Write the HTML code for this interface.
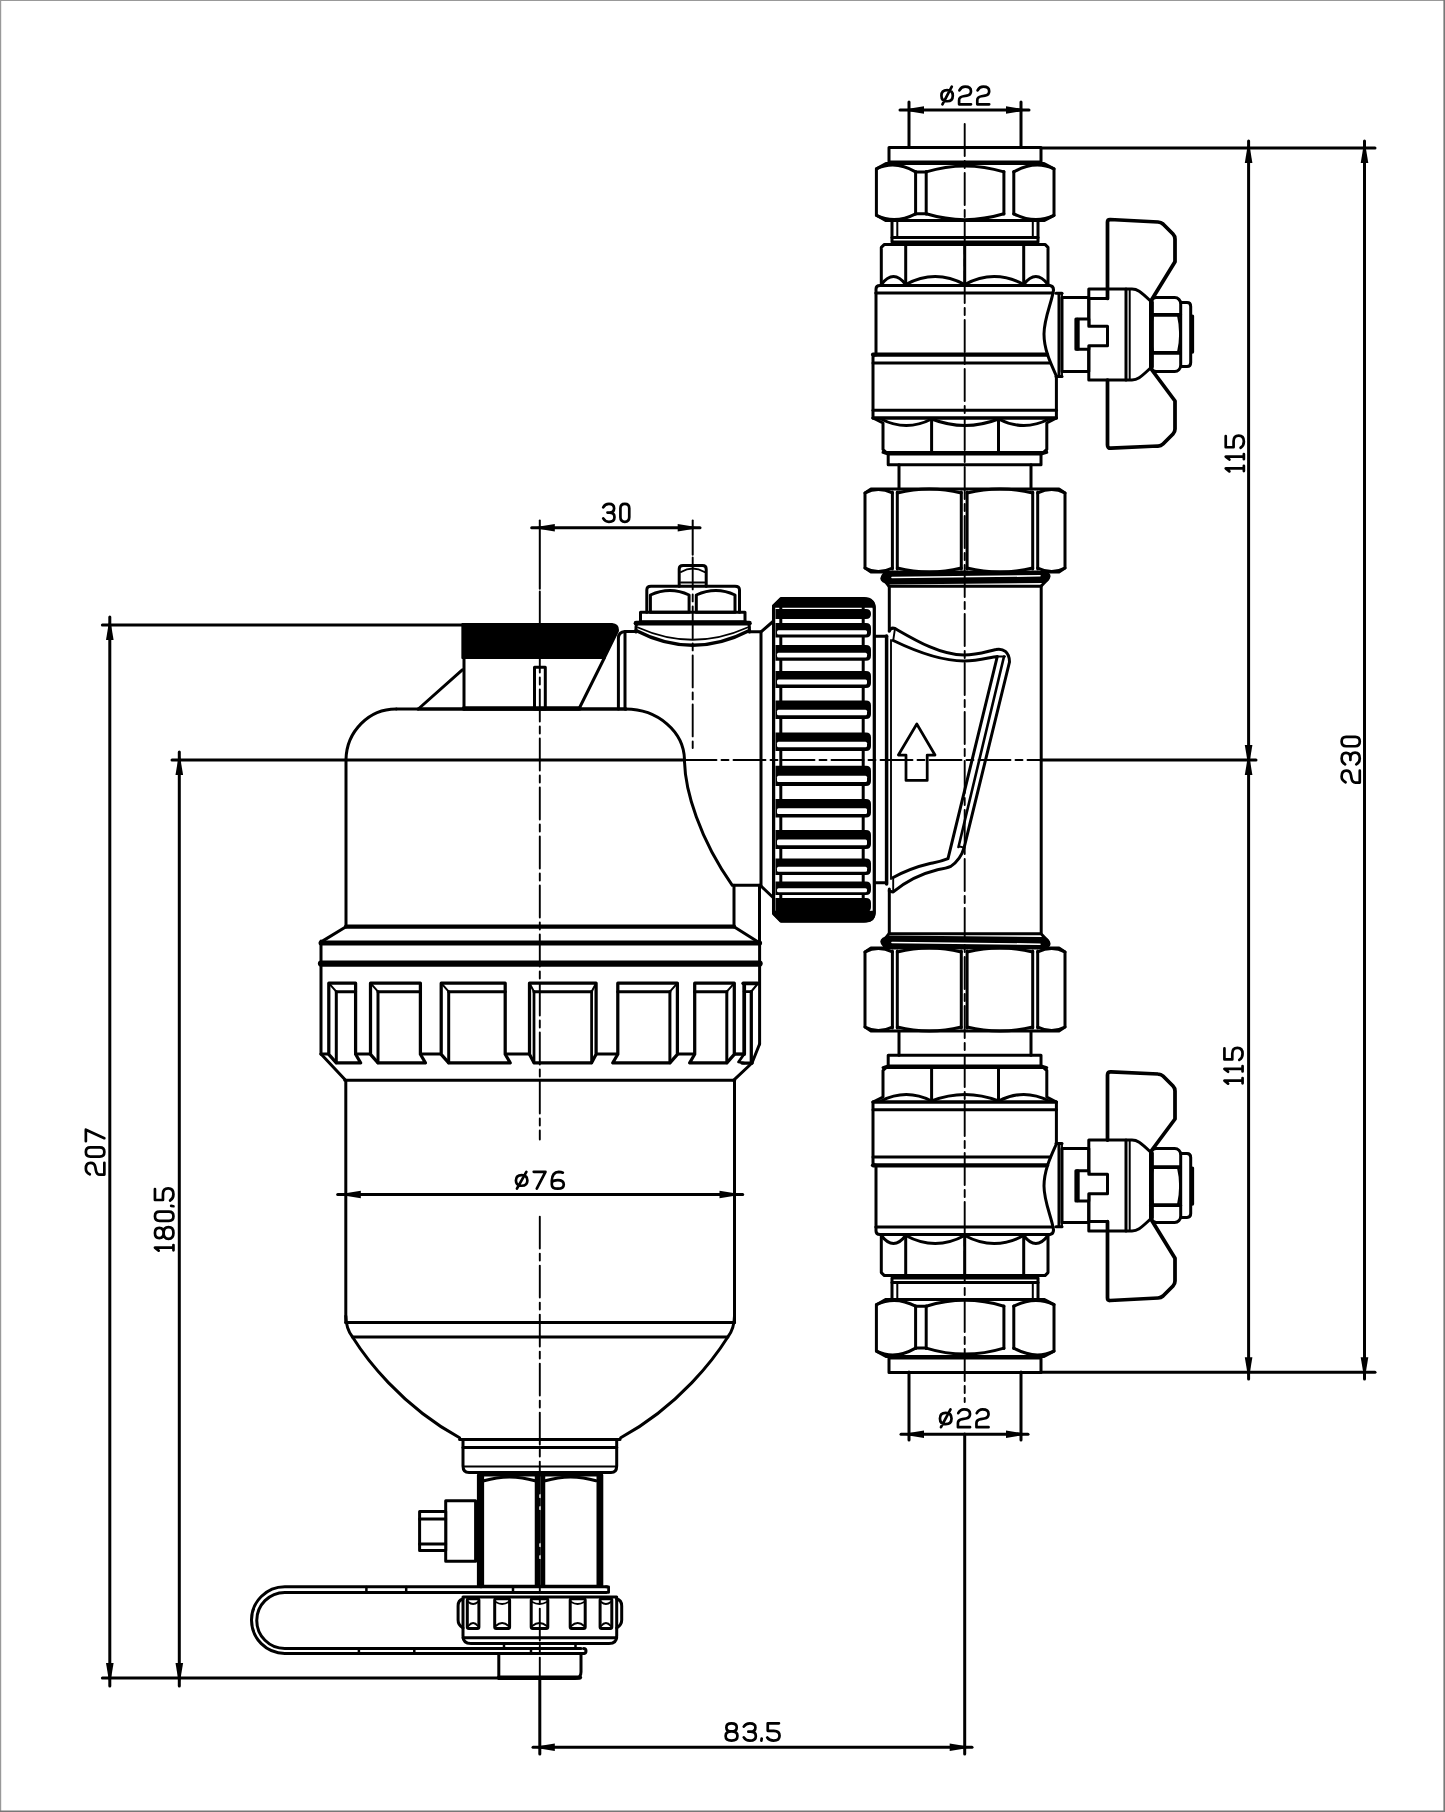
<!DOCTYPE html>
<html><head><meta charset="utf-8"><style>
html,body{margin:0;padding:0;background:#fff;}
svg{display:block;}
text{font-family:"Liberation Sans",sans-serif;}
</style></head><body>
<svg width="1445" height="1812" viewBox="0 0 1445 1812" stroke="#000" fill="none" stroke-linecap="round" stroke-linejoin="round">
<title>Dirt separator with isolating valves - dimensions: ø22, 115, 230, 30, 207, 180.5, ø76, 83.5</title>
<rect x="0" y="0" width="1445" height="1812" fill="#fff" stroke="none"/>
<line x1="900" y1="110" x2="1029" y2="110" stroke-width="3" />
<path d="M901,110 L924,106.2 L924,113.8 Z" fill="#000" stroke="none"/>
<path d="M1029,110 L1006,113.8 L1006,106.2 Z" fill="#000" stroke="none"/>
<line x1="909" y1="102" x2="909" y2="147" stroke-width="3" />
<line x1="1021" y1="102" x2="1021" y2="147" stroke-width="3" />
<path d="M 947.11,90.15 Q 952.80,90.15 952.80,95.70 Q 952.80,101.24 947.11,101.24 Q 941.42,101.24 941.42,95.70 Q 941.42,90.15 947.11,90.15 Z M 951.79,86.69 L 942.44,104.31 M 959.41,90.45 Q 961.34,86.69 965.10,86.69 Q 970.99,86.69 970.99,91.24 Q 970.99,95.00 966.82,95.70 L 963.37,96.29 Q 959.10,96.99 959.10,100.15 L 959.10,104.31 L 970.99,104.31 M 977.59,90.45 Q 979.52,86.69 983.28,86.69 Q 989.18,86.69 989.18,91.24 Q 989.18,95.00 985.01,95.70 L 981.56,96.29 Q 977.29,96.99 977.29,100.15 L 977.29,104.31 L 989.18,104.31" fill="none" stroke="#000" stroke-width="2.70" stroke-linecap="round" stroke-linejoin="round"/>
<line x1="1041" y1="148" x2="1375" y2="148" stroke-width="3" />
<line x1="1248.6" y1="141" x2="1248.6" y2="767" stroke-width="3" />
<path d="M1248.6,140 L1252.4,163 L1244.8,163 Z" fill="#000" stroke="none"/>
<path d="M1248.6,768 L1244.8,745 L1252.4,745 Z" fill="#000" stroke="none"/>
<line x1="1364.5" y1="141" x2="1364.5" y2="1379" stroke-width="3" />
<path d="M1364.5,140 L1368.3,163 L1360.7,163 Z" fill="#000" stroke="none"/>
<path d="M1364.5,1380.3 L1360.7,1357.3 L1368.3,1357.3 Z" fill="#000" stroke="none"/>
<path d="M 1229.40,471.39 L 1225.73,468.45 L 1243.87,468.45 M 1243.87,471.08 L 1243.87,465.83 M 1229.40,459.56 L 1225.73,456.63 L 1243.87,456.63 M 1243.87,459.26 L 1243.87,454.01 M 1225.73,436.22 L 1225.73,447.24 L 1233.58,447.24 L 1233.58,441.27 Q 1233.58,435.61 1238.72,435.61 Q 1243.87,435.61 1243.87,441.48 Q 1243.87,445.82 1240.61,447.74" fill="none" stroke="#000" stroke-width="2.70" stroke-linecap="round" stroke-linejoin="round"/>
<path d="M 1345.50,782.28 Q 1341.63,780.35 1341.63,776.59 Q 1341.63,770.71 1346.32,770.71 Q 1350.19,770.71 1350.90,774.87 L 1351.52,778.32 Q 1352.23,782.58 1355.49,782.58 L 1359.77,782.58 L 1359.77,770.71 M 1345.09,764.42 Q 1341.63,762.49 1341.63,758.43 Q 1341.63,752.95 1346.01,752.95 Q 1350.39,752.95 1350.39,757.72 L 1350.39,759.95 M 1350.39,757.72 Q 1350.39,752.55 1355.08,752.55 Q 1359.77,752.55 1359.77,758.43 Q 1359.77,762.49 1356.31,764.42 M 1346.11,746.26 Q 1341.63,746.26 1341.63,741.59 Q 1341.63,736.92 1346.11,736.92 L 1355.29,736.92 Q 1359.77,736.92 1359.77,741.59 Q 1359.77,746.26 1355.29,746.26 Z" fill="none" stroke="#000" stroke-width="2.70" stroke-linecap="round" stroke-linejoin="round"/>
<line x1="1248.6" y1="753" x2="1248.6" y2="1379" stroke-width="3" />
<path d="M1248.6,752 L1252.4,775 L1244.8,775 Z" fill="#000" stroke="none"/>
<path d="M1248.6,1380.3 L1244.8,1357.3 L1252.4,1357.3 Z" fill="#000" stroke="none"/>
<path d="M 1228.10,1083.59 L 1224.43,1080.65 L 1242.57,1080.65 M 1242.57,1083.28 L 1242.57,1078.03 M 1228.10,1071.76 L 1224.43,1068.83 L 1242.57,1068.83 M 1242.57,1071.46 L 1242.57,1066.21 M 1224.43,1048.42 L 1224.43,1059.44 L 1232.28,1059.44 L 1232.28,1053.47 Q 1232.28,1047.81 1237.42,1047.81 Q 1242.57,1047.81 1242.57,1053.68 Q 1242.57,1058.02 1239.31,1059.94" fill="none" stroke="#000" stroke-width="2.70" stroke-linecap="round" stroke-linejoin="round"/>
<line x1="1041" y1="1372.3" x2="1375" y2="1372.3" stroke-width="3" />
<line x1="901" y1="1434.2" x2="1028" y2="1434.2" stroke-width="3" />
<path d="M901,1434.2 L924,1430.4 L924,1438 Z" fill="#000" stroke="none"/>
<path d="M1029,1434.2 L1006,1438 L1006,1430.4 Z" fill="#000" stroke="none"/>
<line x1="909" y1="1372" x2="909" y2="1440" stroke-width="3" />
<line x1="1021" y1="1372" x2="1021" y2="1440" stroke-width="3" />
<path d="M 945.74,1412.90 Q 951.53,1412.90 951.53,1418.50 Q 951.53,1424.10 945.74,1424.10 Q 939.95,1424.10 939.95,1418.50 Q 939.95,1412.90 945.74,1412.90 Z M 950.50,1409.40 L 940.98,1427.20 M 958.25,1413.20 Q 960.22,1409.40 964.04,1409.40 Q 970.04,1409.40 970.04,1414.00 Q 970.04,1417.80 965.80,1418.50 L 962.29,1419.10 Q 957.94,1419.80 957.94,1423.00 L 957.94,1427.20 L 970.04,1427.20 M 976.76,1413.20 Q 978.73,1409.40 982.55,1409.40 Q 988.55,1409.40 988.55,1414.00 Q 988.55,1417.80 984.31,1418.50 L 980.80,1419.10 Q 976.45,1419.80 976.45,1423.00 L 976.45,1427.20 L 988.55,1427.20" fill="none" stroke="#000" stroke-width="2.70" stroke-linecap="round" stroke-linejoin="round"/>
<line x1="964.7" y1="1434" x2="964.7" y2="1754" stroke-width="3" />
<line x1="533" y1="1747.3" x2="972" y2="1747.3" stroke-width="3" />
<path d="M531.8,1747.3 L554.8,1743.5 L554.8,1751.1 Z" fill="#000" stroke="none"/>
<path d="M972.7,1747.3 L949.7,1751.1 L949.7,1743.5 Z" fill="#000" stroke="none"/>
<line x1="539.8" y1="1680" x2="539.8" y2="1754" stroke-width="3" />
<path d="M 731.54,1731.42 Q 726.36,1731.42 726.36,1727.39 Q 726.36,1723.36 731.54,1723.36 Q 736.73,1723.36 736.73,1727.39 Q 736.73,1731.42 731.54,1731.42 Q 725.64,1731.42 725.64,1736.03 Q 725.64,1740.64 731.54,1740.64 Q 737.45,1740.64 737.45,1736.03 Q 737.45,1731.42 731.54,1731.42 Z M 743.82,1726.66 Q 745.77,1723.36 749.88,1723.36 Q 755.42,1723.36 755.42,1727.53 Q 755.42,1731.71 750.60,1731.71 L 748.34,1731.71 M 750.60,1731.71 Q 755.84,1731.71 755.84,1736.17 Q 755.84,1740.64 749.88,1740.64 Q 745.77,1740.64 743.82,1737.34 M 761.69,1738.50 L 761.38,1740.64 M 778.95,1723.36 L 767.75,1723.36 L 767.75,1730.83 L 773.81,1730.83 Q 779.56,1730.83 779.56,1735.74 Q 779.56,1740.64 773.60,1740.64 Q 769.19,1740.64 767.24,1737.53" fill="none" stroke="#000" stroke-width="2.70" stroke-linecap="round" stroke-linejoin="round"/>
<line x1="109.8" y1="617" x2="109.8" y2="1686" stroke-width="3" />
<path d="M109.8,616.9 L113.6,639.9 L106,639.9 Z" fill="#000" stroke="none"/>
<path d="M109.8,1686 L106,1663 L113.6,1663 Z" fill="#000" stroke="none"/>
<line x1="102.4" y1="624.9" x2="462.3" y2="624.9" stroke-width="3" />
<line x1="102.4" y1="1678" x2="499" y2="1678" stroke-width="3" />
<path d="M 89.80,1174.30 Q 85.85,1172.39 85.85,1168.68 Q 85.85,1162.87 90.63,1162.87 Q 94.58,1162.87 95.31,1166.98 L 95.93,1170.39 Q 96.66,1174.60 99.98,1174.60 L 104.35,1174.60 L 104.35,1162.87 M 90.43,1156.66 Q 85.85,1156.66 85.85,1152.05 Q 85.85,1147.44 90.43,1147.44 L 99.77,1147.44 Q 104.35,1147.44 104.35,1152.05 Q 104.35,1156.66 99.77,1156.66 Z M 85.85,1141.23 L 85.85,1129.70 L 104.35,1138.22" fill="none" stroke="#000" stroke-width="2.70" stroke-linecap="round" stroke-linejoin="round"/>
<line x1="179.3" y1="752" x2="179.3" y2="1686" stroke-width="3" />
<path d="M179.3,752 L183.1,775 L175.5,775 Z" fill="#000" stroke="none"/>
<path d="M179.3,1686 L175.5,1663 L183.1,1663 Z" fill="#000" stroke="none"/>
<path d="M 158.69,1250.59 L 154.95,1247.67 L 173.45,1247.67 M 173.45,1250.29 L 173.45,1245.05 M 163.58,1233.00 Q 163.58,1238.09 159.27,1238.09 Q 154.95,1238.09 154.95,1233.00 Q 154.95,1227.91 159.27,1227.91 Q 163.58,1227.91 163.58,1233.00 Q 163.58,1238.80 168.51,1238.80 Q 173.45,1238.80 173.45,1233.00 Q 173.45,1227.21 168.51,1227.21 Q 163.58,1227.21 163.58,1233.00 Z M 159.53,1220.96 Q 154.95,1220.96 154.95,1216.33 Q 154.95,1211.69 159.53,1211.69 L 168.87,1211.69 Q 173.45,1211.69 173.45,1216.33 Q 173.45,1220.96 168.87,1220.96 Z M 171.16,1205.95 L 173.45,1206.25 M 154.95,1189.02 L 154.95,1200.00 L 162.95,1200.00 L 162.95,1194.05 Q 162.95,1188.41 168.20,1188.41 Q 173.45,1188.41 173.45,1194.26 Q 173.45,1198.59 170.12,1200.50" fill="none" stroke="#000" stroke-width="2.70" stroke-linecap="round" stroke-linejoin="round"/>
<line x1="531.7" y1="527.7" x2="700" y2="527.7" stroke-width="3" />
<path d="M531.8,527.7 L554.8,523.9 L554.8,531.5 Z" fill="#000" stroke="none"/>
<path d="M700.7,527.7 L677.7,531.5 L677.7,523.9 Z" fill="#000" stroke="none"/>
<path d="M 603.24,507.32 Q 605.07,503.91 608.91,503.91 Q 614.09,503.91 614.09,508.23 Q 614.09,512.55 609.58,512.55 L 607.47,512.55 M 609.58,512.55 Q 614.47,512.55 614.47,517.17 Q 614.47,521.79 608.91,521.79 Q 605.07,521.79 603.24,518.38 M 620.43,508.33 Q 620.43,503.91 624.84,503.91 Q 629.26,503.91 629.26,508.33 L 629.26,517.37 Q 629.26,521.79 624.84,521.79 Q 620.43,521.79 620.43,517.37 Z" fill="none" stroke="#000" stroke-width="2.70" stroke-linecap="round" stroke-linejoin="round"/>
<line x1="337.7" y1="1194.5" x2="742.7" y2="1194.5" stroke-width="3" />
<path d="M337.8,1194.5 L360.8,1190.7 L360.8,1198.3 Z" fill="#000" stroke="none"/>
<path d="M742.5,1194.5 L719.5,1198.3 L719.5,1190.7 Z" fill="#000" stroke="none"/>
<path d="M 521.66,1175.14 Q 527.38,1175.14 527.38,1180.44 Q 527.38,1185.74 521.66,1185.74 Q 515.93,1185.74 515.93,1180.44 Q 515.93,1175.14 521.66,1175.14 Z M 526.36,1171.83 L 516.95,1188.67 M 533.72,1171.83 L 545.47,1171.83 L 536.78,1188.67 M 562.85,1172.68 Q 561.21,1171.83 558.76,1171.83 Q 552.01,1172.20 551.81,1180.72 L 551.81,1184.42 Q 551.81,1188.67 557.79,1188.67 Q 563.77,1188.67 563.77,1184.42 Q 563.77,1180.06 557.79,1180.06 Q 553.04,1180.06 551.81,1182.43" fill="none" stroke="#000" stroke-width="2.70" stroke-linecap="round" stroke-linejoin="round"/>
<line x1="172" y1="760" x2="684.5" y2="760" stroke-width="3" />
<line x1="1041" y1="760" x2="1256" y2="760" stroke-width="3" />
<g id="valve">
<rect x="889" y="147.5" width="152" height="14.5" fill="none" stroke-width="3" />
<path d="M886,163.5 L1044,163.5 L1054,168.9 L1054,215.3 L1044,220.6 L886,220.6 L876.4,215.3 L876.4,168.9 Z" fill="none" stroke-width="3" />
<line x1="915.6" y1="171.5" x2="915.6" y2="214" stroke-width="3" />
<line x1="926.2" y1="171.5" x2="926.2" y2="214" stroke-width="3" />
<line x1="1003.9" y1="171.5" x2="1003.9" y2="214" stroke-width="3" />
<line x1="1013.8" y1="171.5" x2="1013.8" y2="214" stroke-width="3" />
<path d="M926.2,171.9 Q964.7,160 1003.9,171.9" fill="none" stroke-width="3" />
<path d="M926.2,213.8 Q964.7,225.5 1003.9,213.8" fill="none" stroke-width="3" />
<path d="M876.4,168.9 Q895,160 915.6,171.9" fill="none" stroke-width="3" />
<path d="M876.4,215.3 Q895,224.5 915.6,213.8" fill="none" stroke-width="3" />
<path d="M1054,168.9 Q1035,160 1013.8,171.9" fill="none" stroke-width="3" />
<path d="M1054,215.3 Q1035,224.5 1013.8,213.8" fill="none" stroke-width="3" />
<line x1="915.6" y1="171.9" x2="926.2" y2="171.9" stroke-width="3" />
<line x1="915.6" y1="213.8" x2="926.2" y2="213.8" stroke-width="3" />
<rect x="892" y="220.6" width="146" height="21.4" fill="none" stroke-width="3" />
<line x1="897.3" y1="221" x2="897.3" y2="237.4" stroke-width="2" />
<line x1="1032.8" y1="221" x2="1032.8" y2="237.4" stroke-width="2" />
<line x1="892" y1="237.4" x2="1038" y2="237.4" stroke-width="3" />
<path d="M884.4,244.4 L1045,244.4 L1048,247.4 L1048,285.5 L881.3,285.5 L881.3,247.4 Z" fill="none" stroke-width="3" />
<line x1="905.7" y1="246" x2="905.7" y2="284" stroke-width="3" />
<line x1="964.7" y1="246" x2="964.7" y2="284" stroke-width="3" />
<line x1="1023.7" y1="246" x2="1023.7" y2="284" stroke-width="3" />
<path d="M881.3,284.5 Q893.5,268.5 905.7,284.5" fill="none" stroke-width="3" />
<path d="M905.7,284.5 Q935.2,268.5 964.7,284.5" fill="none" stroke-width="3" />
<path d="M964.7,284.5 Q994.2,268.5 1023.7,284.5" fill="none" stroke-width="3" />
<path d="M1023.7,284.5 Q1035.85,268.5 1048,284.5" fill="none" stroke-width="3" />
<path d="M876,293 L876,289 Q876,285.5 880,285.5 L1050,285.5 Q1053.5,286 1053.5,290" fill="none" stroke-width="3" />
<line x1="876" y1="293" x2="1053" y2="293" stroke-width="3" />
<line x1="876" y1="293" x2="876" y2="354.7" stroke-width="3" />
<path d="M1053.5,290 C1052,302 1044,318 1044,334 C1044,350 1051,364 1056.4,376 L1056.4,418" fill="none" stroke-width="3" />
<line x1="873" y1="354.7" x2="1047" y2="354.7" stroke-width="4.25" />
<path d="M873,418 L873,357.5 Q873,354.7 876,354.7" fill="none" stroke-width="3" />
<line x1="873" y1="363" x2="1050.5" y2="363" stroke-width="3" />
<line x1="873" y1="410.3" x2="1056.4" y2="410.3" stroke-width="3" />
<line x1="873" y1="418" x2="1056.4" y2="418" stroke-width="3" />
<line x1="1059" y1="293.5" x2="1059" y2="376.5" stroke-width="3" />
<line x1="1062" y1="293.5" x2="1062" y2="376.5" stroke-width="1.88" />
<line x1="1056" y1="293.3" x2="1062" y2="293.3" stroke-width="3" />
<line x1="1056" y1="376.6" x2="1062" y2="376.6" stroke-width="3" />
<rect x="1062" y="297.6" width="26.8" height="73.9" fill="none" stroke-width="3" />
<rect x="1088.8" y="289" width="37.2" height="91" fill="none" stroke-width="3" />
<line x1="1088.8" y1="298.4" x2="1107.5" y2="298.4" stroke-width="3" />
<path d="M1088.8,319.1 L1075.9,319.1 L1075.9,349.3 L1088.8,349.3 L1088.8,345.7 L1107.5,345.7 L1107.5,326.3 L1088.8,326.3 Z" fill="#fff" stroke-width="3" />
<line x1="1077.5" y1="320" x2="1077.5" y2="348.5" stroke-width="4.38" />
<line x1="1129.7" y1="289" x2="1129.7" y2="380" stroke-width="2" />
<path d="M1126,289 L1132,289 C1137,289 1140,291 1150.5,301 L1150.5,368 C1140,378 1137,380 1132,380 L1126,380" fill="none" stroke-width="3" />
<path d="M1107.5,298.4 L1107.5,222 Q1107.5,219.5 1110,219.5 L1158,222 Q1161,222.2 1163,224 L1173,234 Q1175,236 1175,239 L1175,261.7 L1151.2,300.5" fill="none" stroke-width="3.75" />
<path d="M1151.2,369 L1175,401 L1175,429 Q1175,432 1173,434 L1163,444 Q1161,446 1158,446 L1111,448.2 Q1107.5,448.4 1107.5,445 L1107.5,380" fill="none" stroke-width="3.75" />
<rect x="1150.5" y="297.6" width="30.2" height="73.9" rx="6" fill="none" stroke-width="3" />
<line x1="1151" y1="314.8" x2="1180.2" y2="314.8" stroke-width="3.75" />
<line x1="1151" y1="352.9" x2="1180.2" y2="352.9" stroke-width="3.75" />
<line x1="1152" y1="302" x2="1152" y2="367" stroke-width="3.75" />
<path d="M1153,314.8 Q1148.5,334 1153,352.9" fill="none" stroke-width="2.25" />
<path d="M1178,314.8 Q1182.5,334 1178,352.9" fill="none" stroke-width="2.25" />
<path d="M1180.7,302.6 L1187,302.6 Q1190.7,302.6 1190.7,306.5 L1190.7,362.5 Q1190.7,366.5 1187,366.5 L1180.7,366.5" fill="none" stroke-width="3" />
<line x1="1192.5" y1="316" x2="1192.5" y2="352" stroke-width="3.25" />
<path d="M873,418 L1056.4,418 L1046.8,423 L1046.8,449.5 L1043.5,452.4 L886,452.4 L883,449.5 L883,423 Z" fill="none" stroke-width="3" />
<line x1="931.6" y1="420" x2="931.6" y2="451" stroke-width="3" />
<line x1="998.5" y1="420" x2="998.5" y2="451" stroke-width="3" />
<path d="M881,419 Q906.3,432 931.6,419" fill="none" stroke-width="3" />
<path d="M931.6,419 Q965.05,432 998.5,419" fill="none" stroke-width="3" />
<path d="M998.5,419 Q1023.75,432 1049,419" fill="none" stroke-width="3" />
<rect x="888.2" y="454" width="152.8" height="10.8" fill="none" stroke-width="3" />
<line x1="883" y1="452.4" x2="888.2" y2="454" stroke-width="3" />
<line x1="1046.8" y1="452.4" x2="1041" y2="454" stroke-width="3" />
<line x1="899" y1="464.8" x2="899" y2="489" stroke-width="3" />
<line x1="1031" y1="464.8" x2="1031" y2="489" stroke-width="3" />
<path d="M871,489 L1059,489 L1065,493 L1065,568 L1059,572 L871,572 L865,568 L865,493 Z" fill="none" stroke-width="3" />
<line x1="892.4" y1="492" x2="892.4" y2="569" stroke-width="3" />
<line x1="897.3" y1="492" x2="897.3" y2="569" stroke-width="3" />
<line x1="961.3" y1="492" x2="961.3" y2="569" stroke-width="3" />
<line x1="967.1" y1="492" x2="967.1" y2="569" stroke-width="3" />
<line x1="1032.7" y1="492" x2="1032.7" y2="569" stroke-width="3" />
<line x1="1037.7" y1="492" x2="1037.7" y2="569" stroke-width="3" />
<path d="M897.3,493 Q929.3,485 961.3,493" fill="none" stroke-width="3" />
<path d="M897.3,568 Q929.3,576 961.3,568" fill="none" stroke-width="3" />
<path d="M967.1,493 Q999.9000000000001,485 1032.7,493" fill="none" stroke-width="3" />
<path d="M967.1,568 Q999.9000000000001,576 1032.7,568" fill="none" stroke-width="3" />
<path d="M865,493 Q878,486 892.4,493" fill="none" stroke-width="3" />
<path d="M865,568 Q878,575 892.4,568" fill="none" stroke-width="3" />
<path d="M1065,493 Q1052,486 1037.7,493" fill="none" stroke-width="3" />
<path d="M1065,568 Q1052,575 1037.7,568" fill="none" stroke-width="3" />
<path d="M889,572 L1043,572 Q1050,573 1049.6,576.5 Q1049,581 1043,582 L889,583.5 Q881.5,582 881.2,578.4 Q882,573 889,572 Z" fill="#000" stroke-width="1.88" />
<line x1="892" y1="577.5" x2="1040" y2="575.8" stroke-width="1.62" stroke="#fff"/>
<path d="M885,581 L889,586.3 L1041,586.3 L1047,580" fill="none" stroke-width="3" />
</g>
<g transform="matrix(1 0 0 -1 0 1520)">
<rect x="889" y="147.5" width="152" height="14.5" fill="none" stroke-width="3" />
<path d="M886,163.5 L1044,163.5 L1054,168.9 L1054,215.3 L1044,220.6 L886,220.6 L876.4,215.3 L876.4,168.9 Z" fill="none" stroke-width="3" />
<line x1="915.6" y1="171.5" x2="915.6" y2="214" stroke-width="3" />
<line x1="926.2" y1="171.5" x2="926.2" y2="214" stroke-width="3" />
<line x1="1003.9" y1="171.5" x2="1003.9" y2="214" stroke-width="3" />
<line x1="1013.8" y1="171.5" x2="1013.8" y2="214" stroke-width="3" />
<path d="M926.2,171.9 Q964.7,160 1003.9,171.9" fill="none" stroke-width="3" />
<path d="M926.2,213.8 Q964.7,225.5 1003.9,213.8" fill="none" stroke-width="3" />
<path d="M876.4,168.9 Q895,160 915.6,171.9" fill="none" stroke-width="3" />
<path d="M876.4,215.3 Q895,224.5 915.6,213.8" fill="none" stroke-width="3" />
<path d="M1054,168.9 Q1035,160 1013.8,171.9" fill="none" stroke-width="3" />
<path d="M1054,215.3 Q1035,224.5 1013.8,213.8" fill="none" stroke-width="3" />
<line x1="915.6" y1="171.9" x2="926.2" y2="171.9" stroke-width="3" />
<line x1="915.6" y1="213.8" x2="926.2" y2="213.8" stroke-width="3" />
<rect x="892" y="220.6" width="146" height="21.4" fill="none" stroke-width="3" />
<line x1="897.3" y1="221" x2="897.3" y2="237.4" stroke-width="2" />
<line x1="1032.8" y1="221" x2="1032.8" y2="237.4" stroke-width="2" />
<line x1="892" y1="237.4" x2="1038" y2="237.4" stroke-width="3" />
<path d="M884.4,244.4 L1045,244.4 L1048,247.4 L1048,285.5 L881.3,285.5 L881.3,247.4 Z" fill="none" stroke-width="3" />
<line x1="905.7" y1="246" x2="905.7" y2="284" stroke-width="3" />
<line x1="964.7" y1="246" x2="964.7" y2="284" stroke-width="3" />
<line x1="1023.7" y1="246" x2="1023.7" y2="284" stroke-width="3" />
<path d="M881.3,284.5 Q893.5,268.5 905.7,284.5" fill="none" stroke-width="3" />
<path d="M905.7,284.5 Q935.2,268.5 964.7,284.5" fill="none" stroke-width="3" />
<path d="M964.7,284.5 Q994.2,268.5 1023.7,284.5" fill="none" stroke-width="3" />
<path d="M1023.7,284.5 Q1035.85,268.5 1048,284.5" fill="none" stroke-width="3" />
<path d="M876,293 L876,289 Q876,285.5 880,285.5 L1050,285.5 Q1053.5,286 1053.5,290" fill="none" stroke-width="3" />
<line x1="876" y1="293" x2="1053" y2="293" stroke-width="3" />
<line x1="876" y1="293" x2="876" y2="354.7" stroke-width="3" />
<path d="M1053.5,290 C1052,302 1044,318 1044,334 C1044,350 1051,364 1056.4,376 L1056.4,418" fill="none" stroke-width="3" />
<line x1="873" y1="354.7" x2="1047" y2="354.7" stroke-width="4.25" />
<path d="M873,418 L873,357.5 Q873,354.7 876,354.7" fill="none" stroke-width="3" />
<line x1="873" y1="363" x2="1050.5" y2="363" stroke-width="3" />
<line x1="873" y1="410.3" x2="1056.4" y2="410.3" stroke-width="3" />
<line x1="873" y1="418" x2="1056.4" y2="418" stroke-width="3" />
<line x1="1059" y1="293.5" x2="1059" y2="376.5" stroke-width="3" />
<line x1="1062" y1="293.5" x2="1062" y2="376.5" stroke-width="1.88" />
<line x1="1056" y1="293.3" x2="1062" y2="293.3" stroke-width="3" />
<line x1="1056" y1="376.6" x2="1062" y2="376.6" stroke-width="3" />
<rect x="1062" y="297.6" width="26.8" height="73.9" fill="none" stroke-width="3" />
<rect x="1088.8" y="289" width="37.2" height="91" fill="none" stroke-width="3" />
<line x1="1088.8" y1="298.4" x2="1107.5" y2="298.4" stroke-width="3" />
<path d="M1088.8,319.1 L1075.9,319.1 L1075.9,349.3 L1088.8,349.3 L1088.8,345.7 L1107.5,345.7 L1107.5,326.3 L1088.8,326.3 Z" fill="#fff" stroke-width="3" />
<line x1="1077.5" y1="320" x2="1077.5" y2="348.5" stroke-width="4.38" />
<line x1="1129.7" y1="289" x2="1129.7" y2="380" stroke-width="2" />
<path d="M1126,289 L1132,289 C1137,289 1140,291 1150.5,301 L1150.5,368 C1140,378 1137,380 1132,380 L1126,380" fill="none" stroke-width="3" />
<path d="M1107.5,298.4 L1107.5,222 Q1107.5,219.5 1110,219.5 L1158,222 Q1161,222.2 1163,224 L1173,234 Q1175,236 1175,239 L1175,261.7 L1151.2,300.5" fill="none" stroke-width="3.75" />
<path d="M1151.2,369 L1175,401 L1175,429 Q1175,432 1173,434 L1163,444 Q1161,446 1158,446 L1111,448.2 Q1107.5,448.4 1107.5,445 L1107.5,380" fill="none" stroke-width="3.75" />
<rect x="1150.5" y="297.6" width="30.2" height="73.9" rx="6" fill="none" stroke-width="3" />
<line x1="1151" y1="314.8" x2="1180.2" y2="314.8" stroke-width="3.75" />
<line x1="1151" y1="352.9" x2="1180.2" y2="352.9" stroke-width="3.75" />
<line x1="1152" y1="302" x2="1152" y2="367" stroke-width="3.75" />
<path d="M1153,314.8 Q1148.5,334 1153,352.9" fill="none" stroke-width="2.25" />
<path d="M1178,314.8 Q1182.5,334 1178,352.9" fill="none" stroke-width="2.25" />
<path d="M1180.7,302.6 L1187,302.6 Q1190.7,302.6 1190.7,306.5 L1190.7,362.5 Q1190.7,366.5 1187,366.5 L1180.7,366.5" fill="none" stroke-width="3" />
<line x1="1192.5" y1="316" x2="1192.5" y2="352" stroke-width="3.25" />
<path d="M873,418 L1056.4,418 L1046.8,423 L1046.8,449.5 L1043.5,452.4 L886,452.4 L883,449.5 L883,423 Z" fill="none" stroke-width="3" />
<line x1="931.6" y1="420" x2="931.6" y2="451" stroke-width="3" />
<line x1="998.5" y1="420" x2="998.5" y2="451" stroke-width="3" />
<path d="M881,419 Q906.3,432 931.6,419" fill="none" stroke-width="3" />
<path d="M931.6,419 Q965.05,432 998.5,419" fill="none" stroke-width="3" />
<path d="M998.5,419 Q1023.75,432 1049,419" fill="none" stroke-width="3" />
<rect x="888.2" y="454" width="152.8" height="10.8" fill="none" stroke-width="3" />
<line x1="883" y1="452.4" x2="888.2" y2="454" stroke-width="3" />
<line x1="1046.8" y1="452.4" x2="1041" y2="454" stroke-width="3" />
<line x1="899" y1="464.8" x2="899" y2="489" stroke-width="3" />
<line x1="1031" y1="464.8" x2="1031" y2="489" stroke-width="3" />
<path d="M871,489 L1059,489 L1065,493 L1065,568 L1059,572 L871,572 L865,568 L865,493 Z" fill="none" stroke-width="3" />
<line x1="892.4" y1="492" x2="892.4" y2="569" stroke-width="3" />
<line x1="897.3" y1="492" x2="897.3" y2="569" stroke-width="3" />
<line x1="961.3" y1="492" x2="961.3" y2="569" stroke-width="3" />
<line x1="967.1" y1="492" x2="967.1" y2="569" stroke-width="3" />
<line x1="1032.7" y1="492" x2="1032.7" y2="569" stroke-width="3" />
<line x1="1037.7" y1="492" x2="1037.7" y2="569" stroke-width="3" />
<path d="M897.3,493 Q929.3,485 961.3,493" fill="none" stroke-width="3" />
<path d="M897.3,568 Q929.3,576 961.3,568" fill="none" stroke-width="3" />
<path d="M967.1,493 Q999.9000000000001,485 1032.7,493" fill="none" stroke-width="3" />
<path d="M967.1,568 Q999.9000000000001,576 1032.7,568" fill="none" stroke-width="3" />
<path d="M865,493 Q878,486 892.4,493" fill="none" stroke-width="3" />
<path d="M865,568 Q878,575 892.4,568" fill="none" stroke-width="3" />
<path d="M1065,493 Q1052,486 1037.7,493" fill="none" stroke-width="3" />
<path d="M1065,568 Q1052,575 1037.7,568" fill="none" stroke-width="3" />
<path d="M889,572 L1043,572 Q1050,573 1049.6,576.5 Q1049,581 1043,582 L889,583.5 Q881.5,582 881.2,578.4 Q882,573 889,572 Z" fill="#000" stroke-width="1.88" />
<line x1="892" y1="577.5" x2="1040" y2="575.8" stroke-width="1.62" stroke="#fff"/>
<path d="M885,581 L889,586.3 L1041,586.3 L1047,580" fill="none" stroke-width="3" />
</g>
<line x1="889.3" y1="586" x2="889.3" y2="631" stroke-width="3" />
<line x1="886.6" y1="636" x2="886.6" y2="884" stroke-width="3.5" />
<line x1="891" y1="640" x2="891" y2="879" stroke-width="1.88" />
<line x1="889.3" y1="889" x2="889.3" y2="933" stroke-width="3" />
<line x1="1041.2" y1="586" x2="1041.2" y2="933" stroke-width="3" />
<path d="M889.3,631 Q891,627 895,628.5 C915,640 940,655 964,655 C978,655 988,651 996,649.5 C1003,648 1009.5,652 1009.5,662 L964.1,847.6 C962,855 957,862 950.8,866.4 C946,868.5 942,869 937.5,869.7 C920,874 905,882 893.2,891.9 Q891,892 889.3,890.8" fill="none" stroke-width="3" />
<path d="M893.2,640.5 C915,651 940,661 964,661 C980,661 990,657 997.3,656.5 L948,858.7 C940,862 935,862.5 930,863.5 C915,867 905,871 893.2,877.5" fill="none" stroke-width="3" />
<line x1="1004" y1="656.5" x2="958.5" y2="847" stroke-width="2.62" />
<line x1="895" y1="628.5" x2="893.2" y2="640.5" stroke-width="1.88" />
<line x1="997.3" y1="656.5" x2="1005" y2="656.5" stroke-width="1.88" />
<line x1="893.2" y1="877.5" x2="893.2" y2="891.9" stroke-width="1.88" />
<line x1="959.7" y1="846.5" x2="964.1" y2="847.6" stroke-width="1.88" />
<path d="M916.8,724 L935,755 L927.2,755 L927.2,780.4 L906,780.4 L906,755 L898.4,755 Z" fill="none" stroke-width="2.75" />
<path d="M749.4,631.8 L761,631.8 L773.6,621" fill="none" stroke-width="3" />
<line x1="761" y1="631.8" x2="761" y2="886" stroke-width="3" />
<path d="M759.3,885.3 L761,886 L773.6,898" fill="none" stroke-width="3" />
<line x1="874.3" y1="636.3" x2="886.6" y2="636.3" stroke-width="3" />
<line x1="874.3" y1="882.8" x2="886.6" y2="882.8" stroke-width="3" />
<path d="M781,598.7 L864,598.7 Q874.3,599 874.3,609 L874.3,911 Q874.3,921 864,921 L781,921 L773.6,913.6 L773.6,606 Z" fill="#fff" stroke-width="3.25" />
<line x1="780.8" y1="606" x2="780.8" y2="914" stroke-width="3" />
<line x1="863.2" y1="606" x2="863.2" y2="914" stroke-width="3" />
<path d="M773.6,606 L781,598.7 L864,598.7 Q874.3,599 874.3,608 L874.3,606.5 L773.6,606.5 Z" fill="#000" stroke-width="2.5" />
<path d="M775.5,609 L866,609 Q871,609 871,614 L871,614 Q871,619 866,619 L775.5,619 Z" fill="#000" stroke="none"/>
<path d="M775.5,623 L866,623 Q871,623 871,628 L871,632.5 Q871,637.5 866,637.5 L775.5,637.5 Z" fill="#000" stroke="none"/>
<rect x="777" y="630.25" width="90" height="4.35" fill="#fff" stroke="none" rx="1.5"/>
<path d="M775.5,645 L866,645 Q871,645 871,650 L871,655.7 Q871,660.7 866,660.7 L775.5,660.7 Z" fill="#000" stroke="none"/>
<rect x="777" y="652.85" width="90" height="4.71" fill="#fff" stroke="none" rx="1.5"/>
<path d="M775.5,671 L866,671 Q871,671 871,676 L871,683 Q871,688 866,688 L775.5,688 Z" fill="#000" stroke="none"/>
<rect x="777" y="679.5" width="90" height="5.1" fill="#fff" stroke="none" rx="1.5"/>
<path d="M775.5,700.5 L866,700.5 Q871,700.5 871,705.5 L871,714 Q871,719 866,719 L775.5,719 Z" fill="#000" stroke="none"/>
<rect x="777" y="709.75" width="90" height="5.55" fill="#fff" stroke="none" rx="1.5"/>
<path d="M775.5,732.4 L866,732.4 Q871,732.4 871,737.4 L871,746 Q871,751 866,751 L775.5,751 Z" fill="#000" stroke="none"/>
<rect x="777" y="741.7" width="90" height="5.58" fill="#fff" stroke="none" rx="1.5"/>
<path d="M775.5,765.7 L866,765.7 Q871,765.7 871,770.7 L871,781 Q871,786 866,786 L775.5,786 Z" fill="#000" stroke="none"/>
<rect x="777" y="775.85" width="90" height="6.09" fill="#fff" stroke="none" rx="1.5"/>
<path d="M775.5,799 L866,799 Q871,799 871,804 L871,812.6 Q871,817.6 866,817.6 L775.5,817.6 Z" fill="#000" stroke="none"/>
<rect x="777" y="808.3" width="90" height="5.58" fill="#fff" stroke="none" rx="1.5"/>
<path d="M775.5,830 L866,830 Q871,830 871,835 L871,844 Q871,849 866,849 L775.5,849 Z" fill="#000" stroke="none"/>
<rect x="777" y="839.5" width="90" height="5.7" fill="#fff" stroke="none" rx="1.5"/>
<path d="M775.5,858.5 L866,858.5 Q871,858.5 871,863.5 L871,870 Q871,875 866,875 L775.5,875 Z" fill="#000" stroke="none"/>
<rect x="777" y="866.75" width="90" height="4.95" fill="#fff" stroke="none" rx="1.5"/>
<path d="M775.5,881.6 L866,881.6 Q871,881.6 871,886.6 L871,890 Q871,895 866,895 L775.5,895 Z" fill="#000" stroke="none"/>
<rect x="777" y="888.3" width="90" height="4.02" fill="#fff" stroke="none" rx="1.5"/>
<path d="M775.5,898 L866,898 Q871,898 871,903 L871,907 Q871,912 866,912 L775.5,912 Z" fill="#000" stroke="none"/>
<path d="M773.6,912 L874.3,912 L874.3,913 Q874.3,921 866,921 L781,921 L773.6,913.6 Z" fill="#000" stroke-width="2.5" />
<path d="M462.3,624 L612,624 Q618.5,624.5 618,631 L604.8,658.1 L462.3,658.1 Z" fill="#000" stroke-width="1.88" />
<line x1="464" y1="658" x2="464" y2="709" stroke-width="3" />
<line x1="462.3" y1="669.8" x2="418.3" y2="709" stroke-width="3" />
<line x1="604.3" y1="658" x2="579.4" y2="708" stroke-width="3" />
<line x1="418" y1="709" x2="626" y2="709" stroke-width="3" />
<line x1="464" y1="708.5" x2="579.4" y2="708.5" stroke-width="4.5" />
<rect x="534.5" y="667.3" width="10.8" height="41.7" fill="none" stroke-width="3" />
<path d="M618.4,709 L618.4,638 Q618.6,632 625,631.6 L636,631.6" fill="none" stroke-width="3" />
<line x1="625" y1="631.6" x2="625" y2="709" stroke-width="3" />
<path d="M636,632 L636,627 Q636,622 641,622 L745,622 Q749.4,622 749.4,627 L749.4,632" fill="none" stroke-width="3" />
<path d="M636,630.5 Q692.7,660 749.4,630.5" fill="none" stroke-width="3.5" />
<path d="M638,627.5 Q692.7,652 747.5,627.5" fill="none" stroke-width="1.88" />
<rect x="640.5" y="612.2" width="104.5" height="9.8" fill="none" stroke-width="3" />
<line x1="636" y1="623.2" x2="749.4" y2="623.2" stroke-width="4.75" />
<path d="M646.8,612.2 L646.8,590 Q646.8,586.2 651,586.2 L735,586.2 Q739.5,586.2 739.5,590 L739.5,612.2" fill="none" stroke-width="3" />
<path d="M650.4,612.2 L650.4,595 Q670,586 689.1,595 L689.1,612.2 Z" fill="none" stroke-width="3" />
<path d="M696.3,612.2 L696.3,595 Q716,586 735,595 L735,612.2 Z" fill="none" stroke-width="3" />
<path d="M679.2,586.2 L679.2,569 Q679.2,565.5 683,565.5 L702.5,565.5 Q706.2,565.5 706.2,569 L706.2,586.2" fill="none" stroke-width="3" />
<line x1="681" y1="582.5" x2="704.5" y2="582.5" stroke-width="2" />
<path d="M681,572 Q692.7,565 704.5,572" fill="none" stroke-width="2" />
<path d="M396.4,709 A50 51.6 0 0 0 346,759.6 L346,926.7" fill="none" stroke-width="3" />
<line x1="396.4" y1="709" x2="626" y2="709" stroke-width="3" />
<path d="M625.6,709 A59 51.6 0 0 1 684.5,759.6 C684.5,790 700,840 732.3,885.3 L759.3,885.3" fill="none" stroke-width="3" />
<line x1="734" y1="885.3" x2="734" y2="926.7" stroke-width="3" />
<line x1="759.5" y1="885.3" x2="759.5" y2="942" stroke-width="3" />
<line x1="346" y1="926.7" x2="734" y2="926.7" stroke-width="4.25" />
<line x1="346" y1="926.7" x2="321.6" y2="941.6" stroke-width="3" />
<line x1="734" y1="926.7" x2="757" y2="941.2" stroke-width="3" />
<line x1="321" y1="943" x2="759.6" y2="943" stroke-width="5" />
<line x1="321" y1="941" x2="321" y2="1054" stroke-width="3" />
<line x1="759.6" y1="941" x2="759.6" y2="1044" stroke-width="3" />
<line x1="321" y1="963.5" x2="759.6" y2="963.5" stroke-width="6.25" />
<line x1="321" y1="1054" x2="344.9" y2="1079.5" stroke-width="3" />
<line x1="759.6" y1="1044" x2="752" y2="1063" stroke-width="3" />
<line x1="752" y1="1063" x2="733.5" y2="1080.3" stroke-width="3" />
<line x1="344.9" y1="1080.3" x2="734.5" y2="1080.3" stroke-width="3" />
<line x1="321" y1="1054" x2="744.2" y2="1054" stroke-width="3" />
<path d="M328.8,983.2 L355.6,983.2 L355.6,1054.3 L360.6,1062.8 L336.3,1062.8 L328.8,1054.3 Z" fill="#fff" stroke-width="0.12" stroke="none"/>
<path d="M328.8,1054.3 L328.8,983.2 L355.6,983.2 L355.6,1054.3 L360.6,1062.8 L336.3,1062.8 L328.8,1054.3" fill="none" stroke-width="3.25" />
<line x1="336.3" y1="991.7" x2="336.3" y2="1062.8" stroke-width="3" />
<line x1="336.3" y1="991.7" x2="355.6" y2="991.7" stroke-width="3" />
<line x1="328.8" y1="983.2" x2="336.3" y2="991.7" stroke-width="2" />
<path d="M370.5,983.2 L420.4,983.2 L420.4,1054.3 L425.4,1062.8 L378,1062.8 L370.5,1054.3 Z" fill="#fff" stroke-width="0.12" stroke="none"/>
<path d="M370.5,1054.3 L370.5,983.2 L420.4,983.2 L420.4,1054.3 L425.4,1062.8 L378,1062.8 L370.5,1054.3" fill="none" stroke-width="3.25" />
<line x1="378" y1="991.7" x2="378" y2="1062.8" stroke-width="3" />
<line x1="378" y1="991.7" x2="420.4" y2="991.7" stroke-width="3" />
<line x1="370.5" y1="983.2" x2="378" y2="991.7" stroke-width="2" />
<path d="M441.2,983.2 L505.2,983.2 L505.2,1054.3 L510.2,1062.8 L448.7,1062.8 L441.2,1054.3 Z" fill="#fff" stroke-width="0.12" stroke="none"/>
<path d="M441.2,1054.3 L441.2,983.2 L505.2,983.2 L505.2,1054.3 L510.2,1062.8 L448.7,1062.8 L441.2,1054.3" fill="none" stroke-width="3.25" />
<line x1="448.7" y1="991.7" x2="448.7" y2="1062.8" stroke-width="3" />
<line x1="448.7" y1="991.7" x2="505.2" y2="991.7" stroke-width="3" />
<line x1="441.2" y1="983.2" x2="448.7" y2="991.7" stroke-width="2" />
<path d="M529.5,983.2 L596.1,983.2 L596.1,1054.3 L591.6,1062.8 L534,1062.8 L529.5,1054.3 Z" fill="#fff" stroke-width="0.12" stroke="none"/>
<path d="M529.5,1054.3 L529.5,983.2 L596.1,983.2 L596.1,1054.3 L591.6,1062.8 L534,1062.8 Z" fill="none" stroke-width="3.25" />
<line x1="534" y1="991.7" x2="534" y2="1062.8" stroke-width="2.75" />
<line x1="591.6" y1="991.7" x2="591.6" y2="1062.8" stroke-width="2.75" />
<line x1="534" y1="991.7" x2="591.6" y2="991.7" stroke-width="3" />
<line x1="529.5" y1="983.2" x2="534" y2="991.7" stroke-width="2" />
<line x1="596.1" y1="983.2" x2="591.6" y2="991.7" stroke-width="2" />
<path d="M617.8,983.2 L677.4,983.2 L677.4,1054.3 L669.9,1062.8 L612.8,1062.8 L617.8,1054.3 Z" fill="#fff" stroke-width="0.12" stroke="none"/>
<path d="M677.4,1054.3 L677.4,983.2 L617.8,983.2 L617.8,1054.3 L612.8,1062.8 L669.9,1062.8 L677.4,1054.3" fill="none" stroke-width="3.25" />
<line x1="669.9" y1="991.7" x2="669.9" y2="1062.8" stroke-width="3" />
<line x1="617.8" y1="991.7" x2="669.9" y2="991.7" stroke-width="3" />
<line x1="677.4" y1="983.2" x2="669.9" y2="991.7" stroke-width="2" />
<path d="M694.7,983.2 L734.3,983.2 L734.3,1054.3 L726.8,1062.8 L689.7,1062.8 L694.7,1054.3 Z" fill="#fff" stroke-width="0.12" stroke="none"/>
<path d="M734.3,1054.3 L734.3,983.2 L694.7,983.2 L694.7,1054.3 L689.7,1062.8 L726.8,1062.8 L734.3,1054.3" fill="none" stroke-width="3.25" />
<line x1="726.8" y1="991.7" x2="726.8" y2="1062.8" stroke-width="3" />
<line x1="694.7" y1="991.7" x2="726.8" y2="991.7" stroke-width="3" />
<line x1="734.3" y1="983.2" x2="726.8" y2="991.7" stroke-width="2" />
<line x1="744.2" y1="984" x2="744.2" y2="1054" stroke-width="3.75" />
<line x1="743.2" y1="983.3" x2="757.5" y2="983.3" stroke-width="3.75" />
<line x1="751.3" y1="991.5" x2="751.3" y2="1062" stroke-width="3.25" />
<line x1="744.2" y1="991.5" x2="751.3" y2="991.5" stroke-width="2.75" />
<line x1="751.3" y1="991.5" x2="757.5" y2="984" stroke-width="2" />
<line x1="742" y1="1063" x2="752" y2="1063" stroke-width="3.25" />
<path d="M734.5,1054 L744.2,1054 L738.5,1062 L744,1063" fill="none" stroke-width="2.75" />
<line x1="345.8" y1="1080.3" x2="345.8" y2="1322.4" stroke-width="3" />
<line x1="734.5" y1="1080.3" x2="734.5" y2="1322.4" stroke-width="3" />
<line x1="345.8" y1="1322.4" x2="734.5" y2="1322.4" stroke-width="3" />
<path d="M345.8,1316 C346,1326 348.5,1332 352.5,1337 C365,1357 400,1405 459.6,1437.8" fill="none" stroke-width="3" />
<path d="M734.5,1316 C734.3,1326 731.8,1332 727.8,1337 C715.3,1357 680.3,1405 620.7,1437.8" fill="none" stroke-width="3" />
<line x1="352.5" y1="1337" x2="727.8" y2="1337" stroke-width="3" />
<line x1="459.6" y1="1439.5" x2="620" y2="1439.5" stroke-width="3" />
<path d="M463,1439.5 L463,1466 Q463,1472.5 469,1472.5 L611,1472.5 Q616.7,1472.5 616.7,1466 L616.7,1439.5" fill="none" stroke-width="3" />
<line x1="463" y1="1447.6" x2="616.7" y2="1447.6" stroke-width="3" />
<line x1="463" y1="1466.6" x2="616.7" y2="1466.6" stroke-width="2" />
<rect x="478.4" y="1475" width="123.4" height="111.2" fill="none" stroke-width="3" />
<line x1="481" y1="1476" x2="481" y2="1585" stroke-width="6.25" />
<line x1="599" y1="1476" x2="599" y2="1585" stroke-width="5" />
<line x1="537" y1="1476" x2="537" y2="1585" stroke-width="4.5" />
<line x1="543" y1="1476" x2="543" y2="1585" stroke-width="4.5" />
<path d="M484,1480.8 Q509.5,1473 535,1480.8" fill="none" stroke-width="3" />
<path d="M545.3,1480.8 Q570.5,1473 596,1480.8" fill="none" stroke-width="3" />
<rect x="445.7" y="1500.7" width="29.9" height="60.6" fill="#fff" stroke-width="3" />
<rect x="419.6" y="1511.5" width="26.1" height="39" fill="#fff" stroke-width="3" />
<line x1="419.6" y1="1519" x2="445.7" y2="1519" stroke-width="3" />
<line x1="419.6" y1="1543.9" x2="445.7" y2="1543.9" stroke-width="3" />
<path d="M607,1586.8 L284.8,1586.8 A33.3 33.3 0 0 0 284.8,1653.4 L583.5,1653.4" fill="none" stroke-width="3" />
<path d="M606,1592.4 L284.8,1592.4 A28 28 0 0 0 284.8,1648.5 L581,1648.5" fill="none" stroke-width="3" />
<path d="M606,1586.8 L608.6,1586.8 L608.6,1592.4 L606,1592.4" fill="none" stroke-width="2.75" />
<path d="M583.5,1648.5 Q586,1648.5 586,1651 Q586,1653.4 583.5,1653.4" fill="none" stroke-width="3" />
<line x1="366.4" y1="1587" x2="366.4" y2="1592" stroke-width="2.5" />
<line x1="406.2" y1="1587" x2="406.2" y2="1592" stroke-width="2.5" />
<line x1="513" y1="1587" x2="513" y2="1592" stroke-width="2.5" />
<line x1="358.9" y1="1648.5" x2="358.9" y2="1653.4" stroke-width="2.5" />
<line x1="414.3" y1="1648.5" x2="414.3" y2="1653.4" stroke-width="2.5" />
<line x1="531" y1="1648.5" x2="531" y2="1653.4" stroke-width="2.5" />
<path d="M463,1597 L616.7,1597 L616.7,1636 Q616.7,1643.5 609,1643.5 L471,1643.5 Q463,1643.5 463,1636 Z" fill="#fff" stroke-width="3" />
<path d="M463,1599 Q458,1600 458.1,1606 L458.1,1620 Q458,1625 463,1628" fill="none" stroke-width="3" />
<path d="M616.7,1599 Q621.7,1600 621.7,1606 L621.7,1620 Q621.7,1625 616.7,1628" fill="none" stroke-width="3" />
<line x1="463" y1="1637.7" x2="616.7" y2="1637.7" stroke-width="3" />
<rect x="467.3" y="1598.7" width="11.6" height="29.9" rx="1.5" fill="none" stroke-width="3" />
<path d="M468.3,1602 Q473.1,1606 477.9,1602" fill="none" stroke-width="1.88" />
<path d="M468.3,1626 Q473.1,1620 477.9,1626" fill="none" stroke-width="1.88" />
<rect x="494.7" y="1598.7" width="14.9" height="29.9" rx="1.5" fill="none" stroke-width="3" />
<path d="M495.7,1602 Q502.15,1606 508.6,1602" fill="none" stroke-width="1.88" />
<path d="M495.7,1626 Q502.15,1620 508.6,1626" fill="none" stroke-width="1.88" />
<rect x="531.2" y="1598.7" width="16.6" height="29.9" rx="1.5" fill="none" stroke-width="3" />
<path d="M532.2,1602 Q539.5,1606 546.8,1602" fill="none" stroke-width="1.88" />
<path d="M532.2,1626 Q539.5,1620 546.8,1626" fill="none" stroke-width="1.88" />
<rect x="570.2" y="1598.7" width="15" height="29.9" rx="1.5" fill="none" stroke-width="3" />
<path d="M571.2,1602 Q577.7,1606 584.2,1602" fill="none" stroke-width="1.88" />
<path d="M571.2,1626 Q577.7,1620 584.2,1626" fill="none" stroke-width="1.88" />
<rect x="600.1" y="1598.7" width="11.7" height="29.9" rx="1.5" fill="none" stroke-width="3" />
<path d="M601.1,1602 Q605.95,1606 610.8,1602" fill="none" stroke-width="1.88" />
<path d="M601.1,1626 Q605.95,1620 610.8,1626" fill="none" stroke-width="1.88" />
<line x1="504" y1="1643.5" x2="504" y2="1648.5" stroke-width="2.5" />
<line x1="575.5" y1="1643.5" x2="575.5" y2="1648.5" stroke-width="2.5" />
<path d="M498.8,1653.5 L498.8,1678.4 L575,1678.4 Q581,1678.4 581,1672 L581,1653.5" fill="none" stroke-width="3" />
<line x1="499" y1="1677.5" x2="580" y2="1677.5" stroke-width="4.25" />
<line x1="964.7" y1="124" x2="964.7" y2="1402" stroke-width="1.9" stroke-dasharray="32 5 7 5" stroke-dashoffset="0"/>
<line x1="539.8" y1="520.5" x2="539.8" y2="588.8" stroke-width="2" />
<line x1="539.8" y1="591.5" x2="539.8" y2="1139.5" stroke-width="1.9" stroke-dasharray="32 5 7 5" stroke-dashoffset="0"/>
<line x1="539.8" y1="1216.6" x2="539.8" y2="1680" stroke-width="1.9" stroke-dasharray="32 5 7 5" stroke-dashoffset="0"/>
<line x1="692.7" y1="520.5" x2="692.7" y2="554.7" stroke-width="2" />
<line x1="692.7" y1="557.4" x2="692.7" y2="748" stroke-width="1.9" stroke-dasharray="32 5 7 5" stroke-dashoffset="0"/>
<line x1="684.5" y1="760" x2="1256" y2="760" stroke-width="1.9" stroke-dasharray="32 5 7 5" stroke-dashoffset="0"/>
<line x1="0" y1="0.5" x2="1445" y2="0.5" stroke="#999" stroke-width="1"/>
<line x1="0.6" y1="0" x2="0.6" y2="1812" stroke="#999" stroke-width="1.2"/>
<line x1="1444.2" y1="0" x2="1444.2" y2="1812" stroke="#777" stroke-width="1.6"/>
<line x1="0" y1="1811.2" x2="1445" y2="1811.2" stroke="#777" stroke-width="1.6"/>
</svg>
</body></html>
